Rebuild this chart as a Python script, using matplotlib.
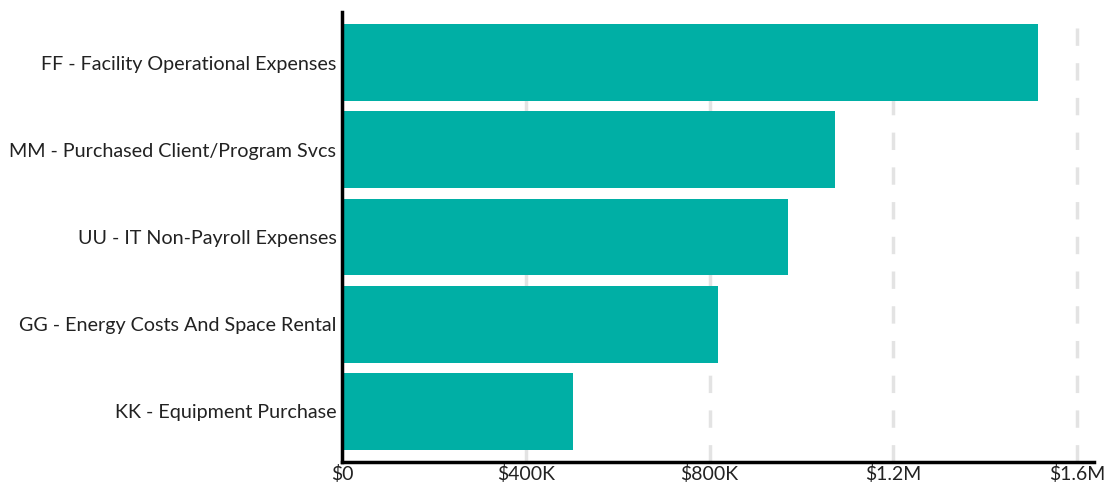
import matplotlib
matplotlib.use("Agg")
import matplotlib.pyplot as plt

plt.rcParams["font.family"] = ["Lato", "DejaVu Sans"]

categories = [
    "FF - Facility Operational Expenses",
    "MM - Purchased Client/Program Svcs",
    "UU - IT Non-Payroll Expenses",
    "GG - Energy Costs And Space Rental",
    "KK - Equipment Purchase",
]
values = [1515000, 1073000, 971000, 818000, 503000]
xticks = [0, 400000, 800000, 1200000, 1600000]
xtick_labels = ["$0", "$400K", "$800K", "$1.2M", "$1.6M"]

fig = plt.figure(figsize=(11.09, 4.87), dpi=100)
ax = fig.add_axes([0.3084, 0.0513, 0.6781, 0.9241])

y = list(range(len(categories)))
ax.barh(y, values, height=0.88, color="#00AFA5", zorder=2)
ax.set_ylim(len(categories) - 0.42, -0.58)
ax.set_xlim(0, 1637000)

ax.set_yticks(y)
ax.set_yticklabels(categories, fontsize=14.2, color="#222222")
ax.set_xticks(xticks)
ax.set_xticklabels(xtick_labels, fontsize=14, color="#222222")
ax.tick_params(length=0, pad=4)
ax.tick_params(axis="x", pad=2)

ax.grid(axis="x", color="#E3E3E3", linestyle=(0, (5, 5)), linewidth=2.5, zorder=0)
ax.set_axisbelow(True)

for s in ["top", "right"]:
    ax.spines[s].set_visible(False)
for s in ["left", "bottom"]:
    ax.spines[s].set_linewidth(2.5)
    ax.spines[s].set_color("black")

fig.savefig("out.png", dpi=100, facecolor="white")
